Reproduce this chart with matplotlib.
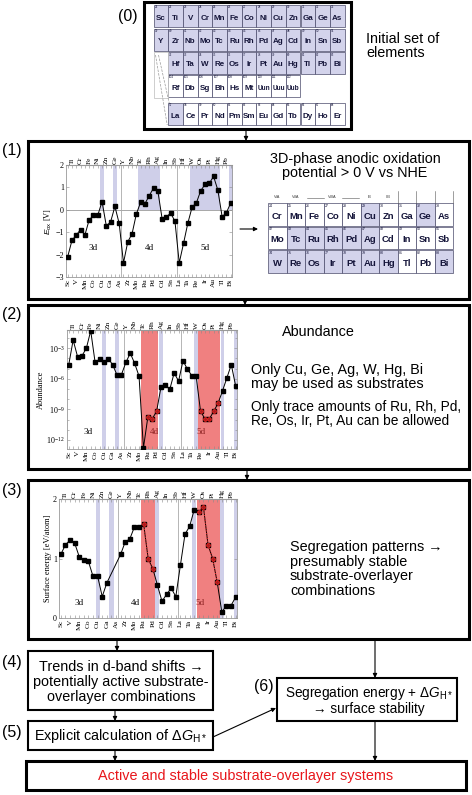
import numpy as np
import matplotlib.pyplot as plt
from matplotlib.patches import Rectangle
from matplotlib.ticker import FixedLocator, NullFormatter

plt.rcParams['font.family'] = ['Liberation Sans', 'DejaVu Sans']
plt.rcParams['mathtext.fontset'] = 'custom'
plt.rcParams['mathtext.rm'] = 'Liberation Sans'
plt.rcParams['mathtext.it'] = 'Liberation Sans:italic'

W, H = 472, 795
SERIF = 'Liberation Serif'

# ---- data -------------------------------------------------------------
elements = ['Sc', 'Ti', 'V', 'Cr', 'Mn', 'Fe', 'Co', 'Ni', 'Cu', 'Zn', 'Ga', 'Ge', 'As',
            'Y', 'Zr', 'Nb', 'Mo', 'Tc', 'Ru', 'Rh', 'Pd', 'Ag', 'Cd', 'In', 'Sn', 'Sb',
            'La', 'Hf', 'Ta', 'W', 'Re', 'Os', 'Ir', 'Pt', 'Au', 'Hg', 'Tl', 'Pb', 'Bi']

# (1) anodic oxidation potential [V]
e_ox = [-2.09, -1.36, -1.13, -0.88, -1.13, -0.45, -0.25, -0.25, 0.37, -0.72, -0.54, 0.15, -0.61,
        -2.37, -1.43, -1.07, -0.19, 0.34, 0.27, 0.63, 0.97, 0.85, -0.39, -0.31, -0.15, -0.51,
        -2.37, -1.50, -0.60, 0.12, 0.31, 0.85, 1.13, 1.18, 1.49, 0.88, -0.31, -0.13, 0.31]

# (2) abundance, log10
log_abundance = [-4.61, -2.19, -3.81, -3.74, -3.0, -1.28, -4.39, -4.06, -4.35, -4.03, -4.61, -5.65, -5.58,
                 -4.39, -3.48, -4.48, -5.74, -12.8, -9.77, -9.94, -9.19, -6.81, -6.65, -7.03, -5.42, -6.23,
                 -4.23, -5.03, -5.68, -5.74, -9.19, -9.94, -9.94, -9.19, -8.39, -7.19, -5.90, -4.61, -6.71]

# (3) surface energy [eV/atom] (Ge, As not shown)
surf_energy = [1.07, 1.23, 1.31, 1.26, 1.03, 0.97, 0.95, 0.70, 0.70, 0.36, 0.59, np.nan, np.nan,
               1.07, 1.28, 1.33, 1.53, 1.53, 1.58, 0.99, 0.83, 0.55, 0.28, 0.40, 0.50, 0.36,
               0.89, 1.41, 1.54, 1.82, 1.78, 1.87, 1.23, 1.00, 0.60, 0.10, 0.21, 0.21, 0.35]

substrates = ['Cu', 'Ge', 'Ag', 'W', 'Hg', 'Bi']
ox_stable = ['Cu', 'Ge', 'Tc', 'Ru', 'Rh', 'Pd', 'Ag', 'W', 'Re', 'Os', 'Ir', 'Pt', 'Au', 'Hg', 'Bi']
trace = ['Ru', 'Rh', 'Pd', 'Re', 'Os', 'Ir', 'Pt', 'Au']

# periodic table (0)
pt0_rows = [['Sc', 'Ti', 'V', 'Cr', 'Mn', 'Fe', 'Co', 'Ni', 'Cu', 'Zn', 'Ga', 'Ge', 'As'],
            ['Y', 'Zr', 'Nb', 'Mo', 'Tc', 'Ru', 'Rh', 'Pd', 'Ag', 'Cd', 'In', 'Sn', 'Sb'],
            ['Hf', 'Ta', 'W', 'Re', 'Os', 'Ir', 'Pt', 'Au', 'Hg', 'Tl', 'Pb', 'Bi'],
            ['Rf', 'Db', 'Sg', 'Bh', 'Hs', 'Mt', 'Uun', 'Uuu', 'Uub'],
            ['La', 'Ce', 'Pr', 'Nd', 'Pm', 'Sm', 'Eu', 'Gd', 'Tb', 'Dy', 'Ho', 'Er']]
pt0_first_z = [21, 39, 72, 104, 57]
pt0_first_col = [0, 0, 1, 1, 1]
pt0_shaded = [True, True, True, False, False]

# periodic table (1)
pt1_rows = [['Cr', 'Mn', 'Fe', 'Co', 'Ni', 'Cu', 'Zn', 'Ga', 'Ge', 'As'],
            ['Mo', 'Tc', 'Ru', 'Rh', 'Pd', 'Ag', 'Cd', 'In', 'Sn', 'Sb'],
            ['W', 'Re', 'Os', 'Ir', 'Pt', 'Au', 'Hg', 'Tl', 'Pb', 'Bi']]
pt1_first_z = [24, 42, 74]

LAV = '#d3d3eb'
LAV_BAND = '#cfcfe9'
RED_BAND = '#f08080'
CELL_EDGE = '#4a4a6a'
CELL_TXT = '#15153a'

fig = plt.figure(figsize=(4.72, 7.95), dpi=100)
bg = fig.add_axes([0, 0, 1, 1])
bg.set_xlim(0, W)
bg.set_ylim(H, 0)
bg.axis('off')


def box(x0, y0, x1, y1, lw):
    bg.add_patch(Rectangle((x0, y0), x1 - x0, y1 - y0, fill=False, ec='k', lw=lw, zorder=3))


def arrow(x0, y0, x1, y1):
    bg.annotate('', xy=(x1, y1), xytext=(x0, y0),
                arrowprops=dict(arrowstyle='-|>', color='k', lw=0.8, mutation_scale=6,
                                shrinkA=0, shrinkB=0), zorder=4)


def txt(x, y, s, size=10.4, ha='center', **kw):
    bg.text(x, y, s, fontsize=size, ha=ha, va='center', linespacing=1.05, **kw)


def chart_axes(x0, y0, x1, y1):
    return fig.add_axes([x0 / W, 1 - y1 / H, (x1 - x0) / W, (y1 - y0) / H])


def setup_chart(ax, ylabel):
    idx = np.arange(len(elements))
    ax.set_xlim(-0.4, 38.3)
    ax.set_xticks(idx)
    ax.set_xticklabels([e if i % 2 == 0 else '' for i, e in enumerate(elements)],
                       rotation=90, fontsize=5.3, family=SERIF)
    top = ax.secondary_xaxis('top')
    top.set_xticks(idx)
    top.set_xticklabels([e if i % 2 == 1 else '' for i, e in enumerate(elements)],
                        rotation=90, fontsize=5.3, family=SERIF)
    for a in (ax, top):
        a.tick_params(axis='x', direction='in', length=2, width=0.4, color='#888', pad=1)
    top.spines['top'].set_color('#999')
    ax.tick_params(axis='y', direction='in', length=2, width=0.4, color='#888', pad=1.5,
                   labelsize=5.8, right=True)
    for lab in ax.get_yticklabels():
        lab.set_family(SERIF)
    for sp in ax.spines.values():
        sp.set_color('#999')
        sp.set_linewidth(0.6)
    for x in (12.5, 25.5):
        ax.axvline(x, color='#aaa', lw=0.6, zorder=1)
    ax.set_ylabel(ylabel, fontsize=6, family=SERIF, labelpad=1)


def bands(ax, names, color, lo=None, hi=None, half=0.45):
    for n in names:
        i = elements.index(n)
        if lo is None:
            ax.axvspan(i - half, i + half, color=color, lw=0, zorder=0)
        else:
            ax.fill_between([i - half, i + half], lo, hi, color=color, lw=0, zorder=0)


# ---- boxes and arrows --------------------------------------------------
box(144, 2, 351, 129, 2.2)
box(28, 141, 469, 299, 2.2)
box(28, 305, 469, 469, 2.2)
box(28, 480, 469, 639, 2.2)
box(28, 651, 213, 710, 1.5)
box(28, 721, 213, 750, 1.5)
box(277, 678, 457, 721, 1.5)
box(26, 761, 466, 790, 2.2)

arrow(246, 129, 246, 141)
arrow(245, 299, 245, 305)
arrow(247, 469, 247, 480)
arrow(117, 639, 117, 651)
arrow(375, 639, 375, 678)
arrow(115, 710, 115, 721)
arrow(213, 737, 276, 708)
arrow(115, 750, 115, 761)
arrow(375, 721, 375, 761)
arrow(240, 229, 258, 229)

for lab, x, y in [('(0)', 128, 16), ('(1)', 12, 151), ('(2)', 12, 314),
                  ('(3)', 12, 490), ('(4)', 12, 662), ('(5)', 12, 733), ('(6)', 264, 686)]:
    txt(x, y, lab, size=11.5)

txt(366, 46, 'Initial set of\nelements', ha='left')
txt(355, 166, '3D-phase anodic oxidation\npotential > 0 V vs NHE')
txt(318, 332, 'Abundance')
txt(251, 377, 'Only Cu, Ge, Ag, W, Hg, Bi\nmay be used as substrates', ha='left')
txt(251, 414, 'Only trace amounts of Ru, Rh, Pd,\nRe, Os, Ir, Pt, Au can be allowed', size=9.9, ha='left')
txt(290, 569, 'Segregation patterns \u2192\npresumably stable\nsubstrate-overlayer\ncombinations', ha='left')
txt(121, 682, 'Trends in d-band shifts \u2192\npotentially active substrate-\noverlayer combinations')
txt(120, 736, r'Explicit calculation of $\Delta G_{\mathrm{H*}}$')
txt(369, 700, 'Segregation energy + $\\Delta G_{\\mathrm{H*}}$\n\u2192 surface stability', size=9.8)
txt(246, 776, 'Active and stable substrate-overlayer systems', color='#e8161b')

# ---- periodic table (0) ------------------------------------------------
cw0, ch0, x00 = 14.7, 22, 153.5
rows_y0 = [5, 28.5, 52, 75, 103]
for r, names in enumerate(pt0_rows):
    for k, name in enumerate(names):
        c = pt0_first_col[r] + k
        x, y = x00 + c * cw0, rows_y0[r]
        fill = LAV if (pt0_shaded[r] or name == 'La') else 'white'
        bg.add_patch(Rectangle((x, y), cw0, ch0, fc=fill, ec=CELL_EDGE, lw=0.5, zorder=2))
        bg.text(x + cw0 / 2, y + 13, name, fontsize=5.8 if len(name) < 3 else 4.7,
                weight='bold', color=CELL_TXT, ha='center', va='center', zorder=3)
        bg.text(x + 1, y + 2.5, str(pt0_first_z[r] + k), fontsize=2.2,
                color=CELL_TXT, ha='left', va='center', zorder=3)
# blank cell and dashed guides to the lanthanides
bg.add_patch(Rectangle((x00, rows_y0[2]), cw0, 2 * ch0 + 1.5, fc='white', ec='#bbb', lw=0.5, zorder=2))
bg.plot([x00 + 2, x00 + cw0 - 1], [rows_y0[2] + 3, rows_y0[4] + ch0], ls='--', color='#999', lw=0.5, zorder=3)
bg.plot([x00 + 5, x00 + cw0 + 1], [rows_y0[2] + 3, rows_y0[4]], ls='--', color='#999', lw=0.5, zorder=3)

# ---- periodic table (1) ------------------------------------------------
cw1, ch1, x01 = 18.5, 22.5, 268
rows_y1 = [203, 226.5, 250]
for r, names in enumerate(pt1_rows):
    for k, name in enumerate(names):
        x, y = x01 + k * cw1, rows_y1[r]
        fill = LAV if name in ox_stable else 'white'
        bg.add_patch(Rectangle((x, y), cw1, ch1, fc=fill, ec=CELL_EDGE, lw=0.5, zorder=2))
        bg.text(x + cw1 / 2, y + 13.5, name, fontsize=6.8, weight='bold', color=CELL_TXT,
                ha='center', va='center', zorder=3)
        bg.text(x + 1, y + 2.8, str(pt1_first_z[r] + k), fontsize=2.6, color=CELL_TXT,
                ha='left', va='center', zorder=3)
for lab, c in [('VIA', 0), ('VIIA', 1), ('VIIIA', 3), ('IB', 5), ('IIB', 6)]:
    bg.text(x01 + (c + 0.5) * cw1, 197.5, lab, fontsize=2.8, color='#333', ha='center', va='center')
for xa, xb in [(x01 + 2.1 * cw1, x01 + 3.0 * cw1), (x01 + 4.0 * cw1, x01 + 4.9 * cw1)]:
    bg.plot([xa, xb], [197.5, 197.5], color='#555', lw=0.4)
for c in (7, 8, 9, 10):
    bg.plot([x01 + c * cw1] * 2, [191, 203], color='#555', lw=0.4)

# ---- chart (1) ----------------------------------------------------------
idx = np.arange(len(elements))
ax1 = chart_axes(66, 165, 232, 277)
bands(ax1, ox_stable, LAV_BAND, lo=0, hi=2, half=0.5)
ax1.axhline(0, color='#999', lw=0.6, zorder=1)
ax1.plot(idx, e_ox, color='k', lw=0.7, marker='s', ms=2.6, zorder=3)
ax1.set_ylim(-3, 2)
ax1.set_yticks([-3, -2, -1, 0, 1, 2])
setup_chart(ax1, '$E_{\\mathrm{ox}}$ [V]')
for s, x, y in [('3d', 6, -1.7), ('4d', 19, -1.7), ('5d', 32, -1.7)]:
    ax1.text(x, y, s, fontsize=6.5, family=SERIF, ha='center', va='center')

# ---- chart (2) ----------------------------------------------------------
ax2 = chart_axes(67, 330, 237, 449)
bands(ax2, substrates, LAV_BAND, half=0.4)
for grp in (trace[:3], trace[3:]):
    i0, i1 = elements.index(grp[0]), elements.index(grp[-1])
    ax2.axvspan(i0 - 1.5 if grp[0] == 'Ru' else i0 - 0.6, i1 + 0.4, color=RED_BAND, lw=0, zorder=0)
abund = 10.0 ** np.array(log_abundance)
ax2.plot(idx, abund, color='k', lw=0.7, marker='s', ms=2.6, zorder=3)
red_i = [elements.index(n) for n in trace]
ax2.plot(red_i, abund[red_i], ls='none', marker='o', ms=2.6, mfc='#a02020', mec='#ff2020',
         mew=0.6, zorder=4)
ax2.set_yscale('log')
ax2.set_ylim(10 ** -12.9, 10 ** -1.2)
ax2.yaxis.set_major_locator(FixedLocator([1e-12, 1e-9, 1e-6, 1e-3]))
ax2.set_yticklabels([r'$\mathregular{10^{-12}}$', r'$\mathregular{10^{-9}}$',
                     r'$\mathregular{10^{-6}}$', r'$\mathregular{10^{-3}}$'])
ax2.yaxis.set_minor_locator(FixedLocator([10.0 ** k for k in range(-12, -1)]))
ax2.yaxis.set_minor_formatter(NullFormatter())
ax2.tick_params(axis='y', which='minor', direction='in', length=1.2, width=0.4, color='#888', right=True)
setup_chart(ax2, 'Abundance')
for s, x, y, c in [('3d', 4.3, 10 ** -11.2, 'k'), ('4d', 19.6, 10 ** -11.2, '#8a2020'),
                   ('5d', 30.2, 10 ** -11.2, '#8a2020')]:
    ax2.text(x, y, s, fontsize=6.5, family=SERIF, ha='center', va='center', color=c)

# ---- chart (3) ----------------------------------------------------------
ax3 = chart_axes(59, 499, 237, 618)
bands(ax3, substrates, LAV_BAND, half=0.45)
for grp in (trace[:3], trace[3:]):
    i0, i1 = elements.index(grp[0]), elements.index(grp[-1])
    ax3.axvspan(i0 - 0.5, i1 + 0.5, color=RED_BAND, lw=0, zorder=0)
se = np.array(surf_energy)
ok = ~np.isnan(se)
ax3.plot(idx[ok], se[ok], color='k', lw=0.7, marker='s', ms=2.6, zorder=3)
for grp in (trace[:3], trace[3:]):
    gi = [elements.index(n) for n in grp]
    ax3.plot(gi, se[gi], color='#ff2020', lw=0.7, ls=':', marker='o', ms=2.6,
             mfc='#a02020', mec='#ff2020', mew=0.6, zorder=4)
ax3.set_ylim(0, 2)
ax3.set_yticks([0, 1, 2])
setup_chart(ax3, 'Surface energy [eV/atom]')
for s, x, y, c in [('3d', 4, 0.25, 'k'), ('4d', 16.3, 0.25, 'k'), ('5d', 30.2, 0.25, '#8a2020')]:
    ax3.text(x, y, s, fontsize=6.5, family=SERIF, ha='center', va='center', color=c)

fig.savefig('out.png', dpi=100)
